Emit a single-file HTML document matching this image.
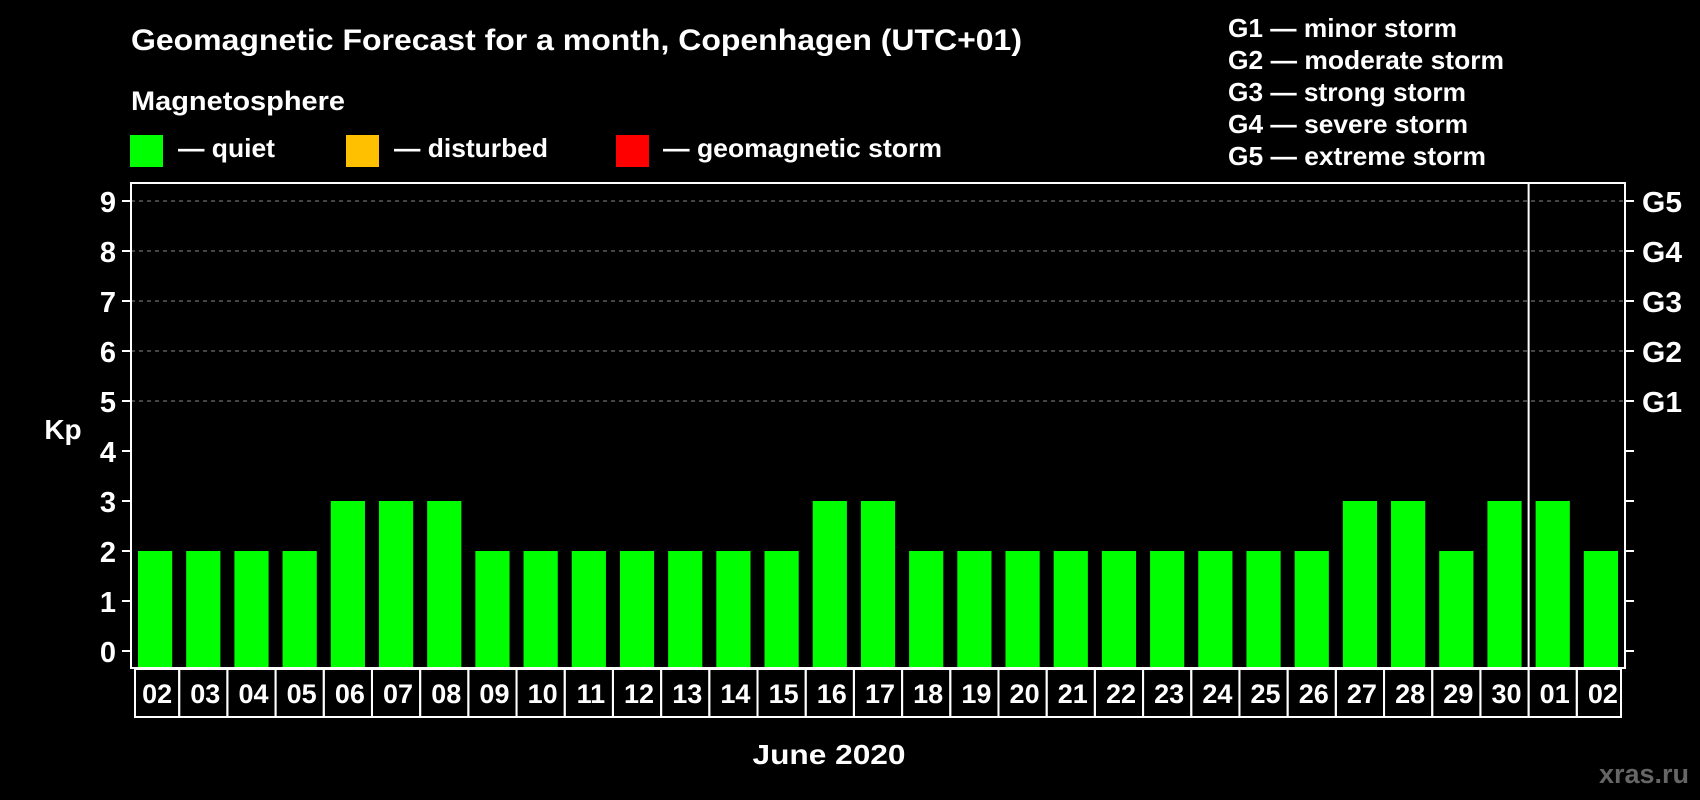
<!DOCTYPE html>
<html><head><meta charset="utf-8"><style>
body{margin:0;background:#000;width:1700px;height:800px;overflow:hidden}
svg{display:block;font-family:"Liberation Sans",Arial,sans-serif;font-weight:bold}
</style></head><body>
<svg id="c" width="1700" height="800" xmlns="http://www.w3.org/2000/svg">
<text x="131" y="50" fill="#fff" font-size="30" textLength="891" lengthAdjust="spacingAndGlyphs">Geomagnetic Forecast for a month, Copenhagen (UTC+01)</text>
<text x="131" y="110" fill="#fff" font-size="27" textLength="214" lengthAdjust="spacingAndGlyphs">Magnetosphere</text>
<rect x="130" y="135" width="33" height="32" fill="#00ff00"/>
<text x="178" y="157" fill="#fff" font-size="26" textLength="97" lengthAdjust="spacingAndGlyphs">— quiet</text>
<rect x="346" y="135" width="33" height="32" fill="#ffc000"/>
<text x="394" y="157" fill="#fff" font-size="26" textLength="154" lengthAdjust="spacingAndGlyphs">— disturbed</text>
<rect x="616" y="135" width="33" height="32" fill="#ff0000"/>
<text x="663" y="157" fill="#fff" font-size="26" textLength="279" lengthAdjust="spacingAndGlyphs">— geomagnetic storm</text>
<g fill="#fff" font-size="26">
<text x="1228" y="37" textLength="229" lengthAdjust="spacingAndGlyphs">G1 — minor storm</text>
<text x="1228" y="69" textLength="276" lengthAdjust="spacingAndGlyphs">G2 — moderate storm</text>
<text x="1228" y="101" textLength="238" lengthAdjust="spacingAndGlyphs">G3 — strong storm</text>
<text x="1228" y="133" textLength="240" lengthAdjust="spacingAndGlyphs">G4 — severe storm</text>
<text x="1228" y="165" textLength="258" lengthAdjust="spacingAndGlyphs">G5 — extreme storm</text>
</g>
<text x="63" y="439" fill="#fff" font-size="28" text-anchor="middle">Kp</text>
<text x="829" y="764" fill="#fff" font-size="28" text-anchor="middle" textLength="153" lengthAdjust="spacingAndGlyphs">June 2020</text>
<text x="1689" y="783" fill="#666" font-size="27" text-anchor="end">xras.ru</text>
<g id="plot"></g>
</svg>
<script>
const days=["02","03","04","05","06","07","08","09","10","11","12","13","14","15","16","17","18","19","20","21","22","23","24","25","26","27","28","29","30","01","02"];
const kp=[2,2,2,2,3,3,3,2,2,2,2,2,2,2,3,3,2,2,2,2,2,2,2,2,2,3,3,2,3,3,2];
const yTicks=[0,1,2,3,4,5,6,7,8,9];
const gLabels=["G1","G2","G3","G4","G5"];
const NS="http://www.w3.org/2000/svg";
const L=131,R=1625,T=183,B=668;
const y=v=>651-v*50;
const slot=(R-L)/days.length;
const x=i=>L+i*slot;
const g=document.getElementById('plot');
function mk(t,a){const e=document.createElementNS(NS,t);for(const k in a)e.setAttribute(k,a[k]);g.appendChild(e);return e;}
yTicks.forEach(v=>{
 if(v>=5){const l=mk('line',{x1:L,x2:R,y1:y(v),y2:y(v),stroke:'#888','stroke-width':1,'stroke-dasharray':'4,4'});
 
 }
 const t1=mk('line',{x1:L-9,x2:L,y1:y(v),y2:y(v),stroke:'#fff','stroke-width':2});
 
 
 const t2=mk('line',{x1:R,x2:R+9,y1:y(v),y2:y(v),stroke:'#fff','stroke-width':2});
 
 
 const tx=mk('text',{x:116,y:y(v)+11,fill:'#fff','font-size':29,'text-anchor':'end'});tx.textContent=v;
 
 
});
gLabels.forEach((s,i)=>{
 const tx=mk('text',{x:1642,y:y(5+i)+11,fill:'#fff','font-size':29,textLength:40,lengthAdjust:'spacingAndGlyphs'});tx.textContent=s;
 
 
});
kp.forEach((v,i)=>{
 const c=v>=5?'#ff0000':(v>=4?'#ffc000':'#00ff00');
 const r=mk('rect',{x:x(i)+7,y:y(v),width:slot-14,height:B-y(v),fill:c});
 
 
 const b=mk('rect',{x:x(i)+(i==0?4:0),y:B+1,width:slot-(i==0?4:0)-(i==days.length-1?4:0),height:48,fill:'none',stroke:'#fff','stroke-width':2});
 
 
 const t=mk('text',{x:x(i)+slot/2+2,y:B+35,fill:'#fff','font-size':27,'text-anchor':'middle'});t.textContent=days[i];
 
 
});
const f=mk('rect',{x:L,y:T,width:R-L,height:B-T,fill:'none',stroke:'#fff','stroke-width':2});


const d=mk('line',{x1:x(29),x2:x(29),y1:T,y2:B,stroke:'#fff','stroke-width':2});


</script>
</body></html>
